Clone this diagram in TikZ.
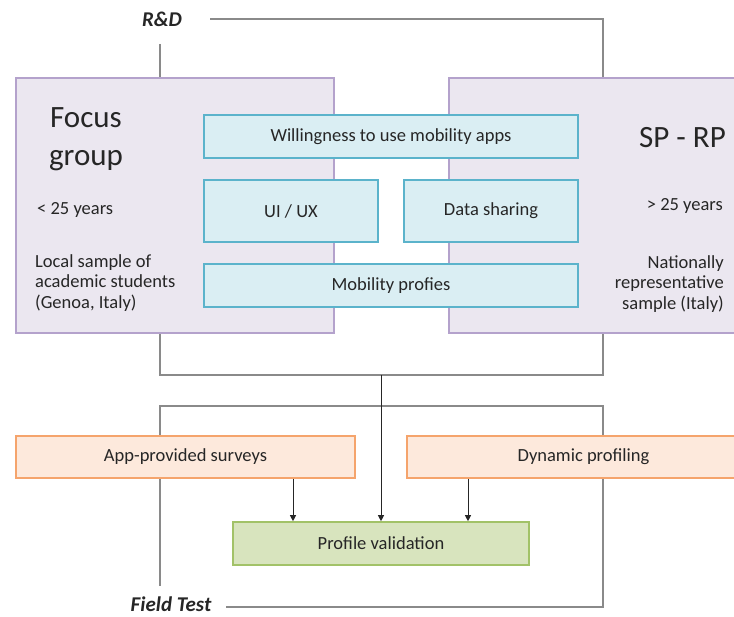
\documentclass[tikz,border=0pt]{standalone}
\usepackage{fontspec}
\setmainfont{Carlito}
\usetikzlibrary{arrows.meta}
\definecolor{lineg}{HTML}{8A8A8A}
\definecolor{purfill}{HTML}{EBE7F0}
\definecolor{purdraw}{HTML}{B4A2CC}
\definecolor{bluefill}{HTML}{DAEEF3}
\definecolor{bluedraw}{HTML}{5BB3CB}
\definecolor{orfill}{HTML}{FDE9DC}
\definecolor{ordraw}{HTML}{F5A46C}
\definecolor{grfill}{HTML}{D8E4BE}
\definecolor{grdraw}{HTML}{A2C268}
\definecolor{txt}{HTML}{262626}
\tikzset{
  every node/.style={text=txt, inner sep=0pt},
  group/.style={draw=purdraw, fill=purfill, line width=1.6pt},
  topic/.style={draw=bluedraw, fill=bluefill, line width=1.6pt, font=\fontsize{18.5}{22}\selectfont},
  field/.style={draw=ordraw, fill=orfill, line width=1.6pt, font=\fontsize{18.5}{22}\selectfont},
  result/.style={draw=grdraw, fill=grfill, line width=1.6pt, font=\fontsize{18.5}{22}\selectfont},
  frame/.style={draw=lineg, line width=1.5pt},
  flow/.style={draw=black!85, line width=0.9pt, -{Triangle[width=6pt,length=6pt]}},
  phase/.style={font=\fontsize{21}{24}\selectfont\bfseries\itshape},
  title/.style={font=\fontsize{31}{38}\selectfont},
  note/.style={font=\fontsize{18.5}{20.5}\selectfont},
}
\begin{document}
\begin{tikzpicture}[x=1pt, y=-1pt]
\useasboundingbox (0,0) rectangle (734,617);
\clip (0,0) rectangle (734,617);
\fill[white] (0,0) rectangle (734,617);

% phase labels
\node[phase] (rnd) at (162,19) {R\&D};
\node[phase] (ft) at (171,604) {Field Test};

% junction points of the frame lines
\coordinate (rndL) at (160,44);
\coordinate (rndR) at (603,19);
\coordinate (joinL) at (160,375);
\coordinate (joinR) at (603,375);
\coordinate (joinM) at (381,375);
\coordinate (ftTL) at (160,406);
\coordinate (ftTR) at (603,406);
\coordinate (ftBR) at (603,607);
\coordinate (ftBL) at (160,586);

% R&D frame lines
\draw[frame] (rnd.east) ++(28,0) -- (rndR) -- (603,78);
\draw[frame] (rndL) -- (160,78);

% joining lines below the two groups
\draw[frame] (160,333) -- (joinL) -- (joinR) -- (603,333);

% field test frame
\draw[frame] (ft.east |- ftBR) ++(15,0) -- (ftBR) -- (ftTR) -- (ftTL) -- (ftBL);

% the two survey groups
\node[group, minimum width=318pt, minimum height=255pt] (focus) at (175,205.5) {};
\node[group, minimum width=311pt, minimum height=255pt] (sprp) at (604.5,205.5) {};

\node[title, align=center] (focustitle) at (86,139) {Focus\\group};
\node[note, anchor=west] (young) at (37,210) {< 25 years};
\node[note, anchor=west, align=left] (local) at (35,283) {Local sample of\\academic students\\(Genoa, Italy)};

\node[title, anchor=east] (sptitle) at (726,138) {SP - RP};
\node[note, anchor=east] (old) at (723,206) {> 25 years};
\node[note, anchor=east, align=right] (national) at (724,284) {Nationally\\representative\\sample (Italy)};

% shared topics
\node[topic, minimum width=374pt, minimum height=43pt] (will) at (391,136.5) {Willingness to use mobility apps};
\node[topic, minimum width=174pt, minimum height=62pt] (ui) at (291,211) {UI / UX};
\node[topic, minimum width=174pt, minimum height=62pt] (data) at (491,211) {Data sharing};
\node[topic, minimum width=374pt, minimum height=43pt] (mob) at (391,285.5) {Mobility profies};

% field test steps
\node[field, minimum width=339pt, minimum height=42pt] (app) at (185.5,457) {App-provided surveys};
\node[field, minimum width=353pt, minimum height=42pt] (dyn) at (583.5,457) {Dynamic profiling};
\node[result, minimum width=296pt, minimum height=43pt] (valid) at (381,543.5) {Profile validation};

% arrows into the validation step
\draw[flow] (app.south -| 293,0) -- (valid.north -| 293,0);
\draw[flow] (dyn.south -| 468,0) -- (valid.north -| 468,0);
\draw[flow] (joinM) -- (valid.north);
\end{tikzpicture}
\end{document}
